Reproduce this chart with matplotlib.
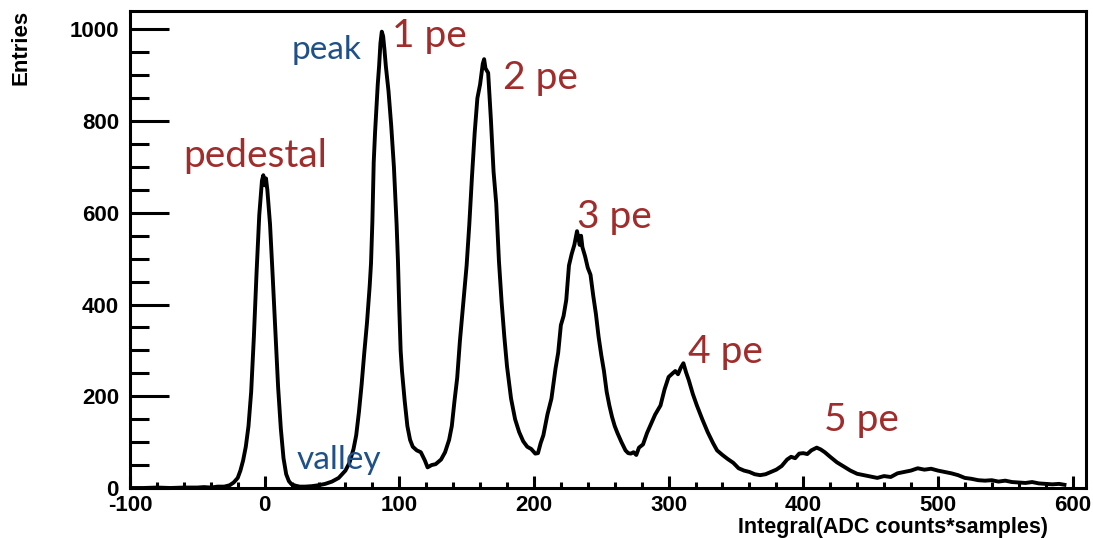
import numpy as np
import matplotlib
matplotlib.use("Agg")
from matplotlib import pyplot as plt
from matplotlib.ticker import MultipleLocator

plt.rcParams["axes.unicode_minus"] = False

# Integral(ADC counts*samples) and entries
integral = [-100, -90, -80, -70, -60, -50, -45, -40, -35, -30, -26, -23, -20, -18, -16,
            -14, -12, -10, -8, -6, -4, -2, -1, 0, 1, 2, 4, 6, 8, 10, 12, 14, 16, 18, 20,
            23, 26, 30, 35, 40, 45, 50, 55, 60, 63, 66, 68, 70, 72, 74, 76, 78, 79, 80,
            81, 82, 84, 85, 86, 87, 88, 89, 90, 92, 94, 95, 96, 98, 99, 100, 101, 102,
            104, 106, 108, 110, 113, 116, 119, 121, 124, 127, 131, 134, 137, 139, 141,
            143, 145, 148, 150, 152, 154, 156, 158, 160, 162, 163, 164, 166, 168, 170,
            172, 174, 176, 178, 180, 183, 186, 189, 192, 195, 198, 201, 203, 205, 207,
            210, 213, 216, 218, 220, 222, 224, 226, 228, 230, 232, 233, 234, 235, 236,
            238, 240, 242, 244, 246, 248, 250, 252, 254, 256, 258, 260, 262, 265, 268,
            270, 272, 274, 276, 278, 281, 284, 287, 290, 294, 297, 300, 303, 305, 307,
            309, 311, 313, 315, 318, 321, 325, 329, 333, 336, 340, 344, 348, 352, 356,
            360, 364, 368, 372, 376, 380, 384, 388, 391, 394, 397, 400, 403, 406, 410,
            413, 416, 420, 425, 430, 435, 440, 445, 450, 455, 460, 465, 470, 475, 480,
            485, 490, 495, 500, 505, 510, 515, 520, 525, 530, 535, 540, 545, 550, 555,
            560, 565, 570, 575, 580, 585, 590, 594]
entries = [0, 0, 1, 0, 1, 1, 2, 1, 3, 3, 6, 12, 22, 38, 60,
           90, 135, 210, 330, 470, 595, 670, 682, 660, 675, 650, 575, 460, 340, 220, 130, 65, 30, 15, 8,
           5, 3, 3, 4, 6, 9, 14, 22, 38, 55, 85, 115, 165, 225, 295, 360, 440, 490, 580,
           710, 775, 880, 920, 970, 995, 985, 955, 920, 865, 790, 745, 700, 575, 495, 390, 300, 255,
           190, 135, 105, 90, 82, 78, 60, 45, 50, 52, 62, 78, 105, 135, 190,
           240, 320, 420, 485, 575, 680, 775, 850, 880, 925, 935, 915, 905, 805, 690,
           620, 495, 405, 330, 265, 195, 150, 122, 102, 90, 85, 75, 76, 98, 115,
           160, 195, 260, 295, 355, 375, 410, 485, 510, 530, 560, 545, 530, 550, 525,
           505, 480, 465, 420, 380, 330, 290, 255, 210, 180, 155, 135, 120, 100, 82,
           76, 75, 78, 72, 88, 95, 120, 140, 160, 180, 215, 242, 250, 255, 248,
           262, 272, 252, 235, 205, 180, 150, 122, 98, 82, 72, 63, 55, 43, 38,
           35, 30, 28, 30, 35, 40, 48, 62, 68, 65, 75, 76, 74, 82, 88,
           84, 78, 68, 56, 47, 38, 31, 28, 25, 22, 26, 24, 32, 35, 38,
           43, 40, 42, 38, 35, 32, 28, 22, 20, 17, 16, 17, 14, 16, 13,
           12, 11, 13, 10, 9, 8, 9, 7]

# annotations: text, x, y, colour
etiquetas = ["pedestal", "peak", "1 pe", "2 pe", "3 pe", "4 pe", "5 pe", "valley"]
etiq_x = [-7, 46, 122, 205, 260, 342, 443, 55]
etiq_y = [723, 956, 985, 895, 590, 297, 148, 61]
rojo = "#A02C2C"
azul = "#1F5088"
etiq_color = [rojo, azul, rojo, rojo, rojo, rojo, rojo, azul]
etiq_size = [28, 24, 28, 28, 28, 28, 28, 24]

fig = plt.figure(figsize=(10.93, 5.38), dpi=100)
ax = fig.add_axes([130 / 1093, 1 - 488 / 538, (1086 - 130) / 1093, (488 - 11) / 538])

ax.plot(integral, entries, color="black", lw=2.8)

ax.set_xlim(-100, 610)
ax.set_ylim(0, 1040)
ax.xaxis.set_major_locator(MultipleLocator(100))
ax.xaxis.set_minor_locator(MultipleLocator(20))
ax.yaxis.set_major_locator(MultipleLocator(200))
ax.yaxis.set_minor_locator(MultipleLocator(50))
ax.tick_params(axis="y", which="major", direction="in", length=28, width=2.2)
ax.tick_params(axis="y", which="minor", direction="in", length=14, width=2.2)
ax.tick_params(axis="x", which="major", direction="in", length=9, width=2.2)
ax.tick_params(axis="x", which="minor", direction="in", length=4.5, width=2.2)
ax.tick_params(axis="y", pad=8)
ax.tick_params(axis="x", pad=5)
for lab in ax.get_xticklabels() + ax.get_yticklabels():
    lab.set_fontfamily("Liberation Sans")
    lab.set_fontweight("bold")
    lab.set_fontsize(16)
for s in ax.spines.values():
    s.set_linewidth(2.2)

for t, x, y, c, fs in zip(etiquetas, etiq_x, etiq_y, etiq_color, etiq_size):
    ax.text(x, y, t, color=c, fontsize=fs, family="Lato", ha="center", va="center")

fig.text(1048 / 1093, 1 - 527 / 538, "Integral(ADC counts*samples)", ha="right", va="center",
         family="Liberation Sans", fontweight="bold", fontsize=15.5)
fig.text(21 / 1093, 1 - 10 / 538, "Entries", rotation=90, ha="center", va="top",
         family="Liberation Sans", fontweight="bold", fontsize=16)

fig.savefig("out.png", dpi=100)
